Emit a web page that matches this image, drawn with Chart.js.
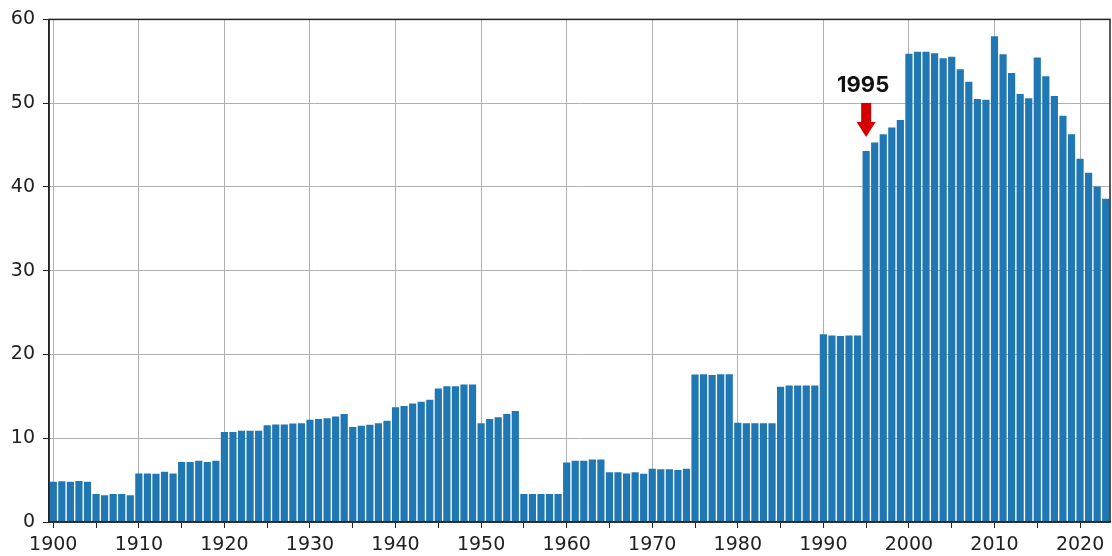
<!DOCTYPE html>
<html>
<head>
<meta charset="utf-8">
<script src="https://cdn.jsdelivr.net/npm/chart.js@4"></script>
<style>
  html, body { margin: 0; padding: 0; background: #fff; }
  #wrap { width: 1112px; height: 556px; position: relative; }
</style>
</head>
<body>
<div id="wrap"><canvas id="barChart"></canvas></div>
<script>
const firstYear = 1900;

const values = [
    4.8, 4.85, 4.8, 4.9, 4.8, 3.35, 3.2, 3.35, 3.35, 3.2,
    5.8, 5.8, 5.75, 6.0, 5.8, 7.15, 7.15, 7.3, 7.15, 7.3,
    10.75, 10.75, 10.9, 10.9, 10.9, 11.55, 11.65, 11.65, 11.75, 11.8,
    12.2, 12.3, 12.4, 12.6, 12.9, 11.35, 11.5, 11.6, 11.8, 12.1,
    13.7, 13.85, 14.15, 14.35, 14.6, 15.95, 16.2, 16.2, 16.4, 16.4,
    11.8, 12.3, 12.5, 12.9, 13.25, 3.35, 3.35, 3.35, 3.35, 3.35,
    7.1, 7.3, 7.3, 7.45, 7.45, 5.95, 5.95, 5.8, 5.95, 5.75,
    6.35, 6.3, 6.3, 6.2, 6.35, 17.6, 17.65, 17.55, 17.65, 17.65,
    11.85, 11.8, 11.8, 11.8, 11.8, 16.15, 16.3, 16.3, 16.3, 16.3,
    22.4, 22.25, 22.2, 22.25, 22.25, 44.3, 45.3, 46.3, 47.1, 48.0,
    55.9, 56.15, 56.15, 55.95, 55.35, 55.55, 54.05, 52.55, 50.5, 50.4,
    58.0, 55.85, 53.6, 51.1, 50.6, 55.45, 53.2, 50.85, 48.5, 46.3,
    43.35, 41.7, 40.05, 38.6
];
const years = values.map((v, i) => firstYear + i);
const yTicks = [0, 10, 20, 30, 40, 50, 60];

const markYear = 1995;
const markLabel = '1995';

const gridGray = '#b0b0b0';
const axisDark = '#222222';

// frame around the plot + the 1995 arrow
const framePlugin = {
    id: 'framePlugin',
    afterDraw(chart) {
        const ctx = chart.ctx;
        const a = chart.chartArea;
        ctx.save();
        ctx.strokeStyle = axisDark;
        ctx.lineWidth = 1.5;
        ctx.strokeRect(a.left, a.top, a.right - a.left, a.bottom - a.top);

        const idx = years.indexOf(markYear);
        const x = chart.scales.x.getPixelForValue(idx);
        const top = chart.scales.y.getPixelForValue(values[idx]);
        const tip = top - 14;

        ctx.fillStyle = '#d40000';
        ctx.fillRect(x - 5, tip - 34, 10, 20);
        ctx.beginPath();
        ctx.moveTo(x - 9.5, tip - 15);
        ctx.lineTo(x + 9.5, tip - 15);
        ctx.lineTo(x, tip);
        ctx.closePath();
        ctx.fill();

        ctx.fillStyle = '#111';
        ctx.font = 'bold 22px Inter, "Open Sans", sans-serif';
        ctx.textAlign = 'center';
        ctx.textBaseline = 'alphabetic';
        ctx.fillText(markLabel, x - 3, tip - 45);
        ctx.restore();
    }
};

const ctx = document.getElementById('barChart').getContext('2d');
new Chart(ctx, {
    type: 'bar',
    data: {
        labels: years.map(String),
        datasets: [{
            data: values,
            backgroundColor: '#1f77b4',
            borderWidth: 0,
            barPercentage: 0.84,
            categoryPercentage: 1.0
        }]
    },
    options: {
        responsive: true,
        maintainAspectRatio: false,
        animation: false,
        layout: { padding: { top: 18, right: 2, left: 0, bottom: 0 } },
        plugins: {
            legend: { display: false },
            tooltip: { enabled: false }
        },
        scales: {
            x: {
                offset: true,
                afterFit: scale => { scale.height = 34; },
                grid: {
                    offset: false,
                    drawOnChartArea: true,
                    tickLength: 6,
                    lineWidth: 1,
                    color: c => (years[c.index] % 10 === 0 ? gridGray : 'rgba(0,0,0,0)'),
                    tickColor: c => (years[c.index] % 5 === 0 ? axisDark : 'rgba(0,0,0,0)')
                },
                border: { color: axisDark, width: 1.5 },
                ticks: {
                    autoSkip: false,
                    maxRotation: 0,
                    padding: 6,
                    color: axisDark,
                    font: { family: '"DejaVu Sans"', size: 19 },
                    callback: (val, i) => (years[i] % 10 === 0 ? String(years[i]) : '')
                }
            },
            y: {
                min: 0,
                max: 60,
                afterFit: scale => { scale.width = 49; },
                afterBuildTicks: scale => { scale.ticks = yTicks.map(v => ({ value: v })); },
                grid: { color: gridGray, tickColor: axisDark, tickLength: 6, lineWidth: 1 },
                border: { color: axisDark, width: 1.5 },
                ticks: {
                    padding: 8,
                    color: axisDark,
                    font: { family: '"DejaVu Sans"', size: 19 }
                }
            }
        }
    },
    plugins: [framePlugin]
});
</script>
</body>
</html>
